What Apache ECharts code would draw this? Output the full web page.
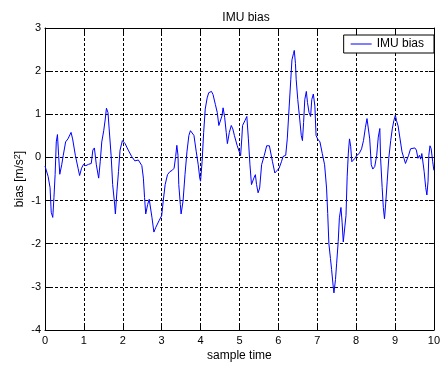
<!DOCTYPE html>
<html>
<head>
<meta charset="utf-8">
<script src="https://cdn.jsdelivr.net/npm/echarts@6/dist/echarts.min.js"></script>
<style>
  html, body { margin: 0; padding: 0; background: #fff; }
  #chart { width: 443px; height: 367px; }
</style>
</head>
<body>
<div id="chart"></div>
<script>
// IMU bias samples: time stamps and bias values (m/s^2)
const sampleTime = [
  0.00, 0.08, 0.13, 0.16, 0.20, 0.23, 0.26, 0.29, 0.32, 0.35, 0.38, 0.43, 0.47, 0.53, 0.59, 0.64, 0.67, 0.71, 0.78, 0.85,
  0.89, 0.94, 0.99, 1.05, 1.12, 1.19, 1.23, 1.27, 1.32, 1.38, 1.42, 1.46, 1.51, 1.55, 1.58, 1.62, 1.65, 1.70, 1.74, 1.79,
  1.81, 1.85, 1.89, 1.93, 1.99, 2.06, 2.14, 2.23, 2.31, 2.40, 2.49, 2.53, 2.56, 2.59, 2.64, 2.68, 2.71, 2.75, 2.80, 2.85,
  2.93, 3.00, 3.04, 3.09, 3.15, 3.21, 3.27, 3.32, 3.36, 3.39, 3.42, 3.44, 3.48, 3.50, 3.55, 3.60, 3.65, 3.70, 3.74, 3.78,
  3.83, 3.89, 3.94, 3.98, 4.00, 4.04, 4.08, 4.12, 4.17, 4.21, 4.28, 4.32, 4.38, 4.43, 4.47, 4.51, 4.55, 4.58, 4.62, 4.66,
  4.69, 4.74, 4.79, 4.83, 4.87, 4.94, 5.03, 5.06, 5.08, 5.14, 5.19, 5.23, 5.27, 5.31, 5.37, 5.41, 5.44, 5.48, 5.52, 5.57,
  5.64, 5.70, 5.77, 5.81, 5.85, 5.91, 5.96, 6.02, 6.08, 6.12, 6.19, 6.23, 6.28, 6.32, 6.35, 6.39, 6.41, 6.44, 6.46, 6.50,
  6.55, 6.59, 6.62, 6.65, 6.68, 6.72, 6.75, 6.79, 6.83, 6.86, 6.90, 6.94, 6.97, 7.01, 7.07, 7.13, 7.19, 7.24, 7.27, 7.30,
  7.34, 7.37, 7.41, 7.43, 7.47, 7.50, 7.54, 7.57, 7.61, 7.64, 7.67, 7.70, 7.74, 7.77, 7.80, 7.83, 7.86, 7.89, 7.93, 7.97,
  8.02, 8.08, 8.14, 8.19, 8.24, 8.28, 8.32, 8.35, 8.39, 8.43, 8.48, 8.53, 8.57, 8.61, 8.63, 8.67, 8.70, 8.73, 8.76, 8.80,
  8.84, 8.89, 8.93, 8.97, 9.01, 9.04, 9.08, 9.13, 9.18, 9.23, 9.27, 9.31, 9.35, 9.40, 9.45, 9.51, 9.55, 9.59, 9.63, 9.66,
  9.69, 9.72, 9.75, 9.79, 9.82, 9.85, 9.87, 9.90, 9.93, 9.97, 10.00
];
const imuBias = [
  -0.20, -0.44, -0.70, -1.27, -1.39, -0.93, -0.40, 0.36, 0.53, 0.05, -0.39, -0.17, 0.05, 0.36, 0.43, 0.47, 0.58, 0.43, 0.05, -0.25,
  -0.42, -0.25, -0.16, -0.19, -0.16, -0.14, 0.17, 0.22, -0.17, -0.48, -0.10, 0.36, 0.62, 0.89, 1.14, 1.04, 0.66, 0.05, -0.63, -1.08,
  -1.31, -0.78, -0.33, 0.17, 0.39, 0.32, 0.17, 0.02, -0.08, -0.06, -0.19, -0.48, -0.93, -1.31, -1.09, -0.97, -1.01, -1.39, -1.73, -1.62,
  -1.47, -1.35, -1.01, -0.63, -0.40, -0.33, -0.30, -0.25, 0.02, 0.28, 0.05, -0.63, -1.09, -1.31, -1.01, -0.40, 0.13, 0.51, 0.62, 0.66,
  0.51, 0.13, -0.17, -0.48, -0.55, -0.10, 0.58, 1.12, 1.38, 1.50, 1.53, 1.46, 1.23, 1.04, 0.74, 0.74, 0.96, 1.15, 0.93, 0.58,
  0.32, 0.58, 0.74, 0.66, 0.51, 0.28, 0.04, 0.43, 0.74, 0.85, 0.95, 0.43, -0.17, -0.63, -0.48, -0.40, -0.63, -0.82, -0.71, -0.17,
  0.05, 0.27, 0.27, 0.24, -0.10, -0.36, -0.31, -0.25, -0.10, 0.02, 0.05, 0.43, 1.19, 1.80, 2.26, 2.41, 2.48, 2.18, 1.80, 1.34,
  0.89, 0.51, 0.39, 0.81, 1.34, 1.53, 1.27, 1.04, 0.95, 1.34, 1.47, 1.19, 0.51, 0.43, 0.36, 0.09, -0.17, -0.71, -1.30, -2.00,
  -2.34, -2.60, -2.98, -3.14, -2.83, -2.45, -1.95, -1.40, -1.16, -1.50, -1.96, -1.98, -1.35, -0.45, 0.10, 0.43, 0.26, -0.10, -0.14, -0.02,
  0.05, 0.09, 0.20, 0.39, 0.70, 0.90, 0.92, 0.43, -0.17, -0.27, -0.21, 0.05, 0.47, 0.67, -0.02, -0.70, -1.16, -1.42, -1.08, -0.55,
  -0.02, 0.39, 0.66, 0.85, 0.98, 0.85, 0.73, 0.43, 0.13, -0.02, -0.14, -0.17, 0.05, 0.20, 0.24, 0.22, 0.17, -0.02, 0.05, -0.04,
  0.09, 0.05, -0.33, -0.70, -0.87, -0.55, 0.05, 0.27, 0.20, -0.10, -0.30
];

const FONT = 'Liberation Sans, Arial, sans-serif';
const gridDash = { color: '#000', width: 1, type: [3, 2] };

const chart = echarts.init(document.getElementById('chart'), null, { renderer: 'canvas' });

const mainAxisCommon = {
  type: 'value',
  axisLine: { show: true, onZero: false, lineStyle: { color: '#000', width: 1 } },
  axisTick: { show: true, inside: true, length: 5, lineStyle: { color: '#000' } },
  axisLabel: { color: '#000', fontFamily: FONT, fontSize: 11 },
  splitLine: { show: true, lineStyle: gridDash },
  nameMoveOverlap: false,
  nameTextStyle: { color: '#000', fontFamily: FONT, fontSize: 12 }
};
// top/right edges close the plot box and carry inward ticks only
const boxAxisCommon = {
  type: 'value',
  axisLine: { show: true, onZero: false, lineStyle: { color: '#000', width: 1 } },
  axisTick: { show: true, inside: true, length: 5, lineStyle: { color: '#000' } },
  axisLabel: { show: false },
  splitLine: { show: false }
};

chart.setOption({
  animation: false,
  backgroundColor: '#fff',
  title: {
    text: 'IMU bias',
    left: 241,
    textAlign: 'center',
    top: 7,
    textStyle: { color: '#000', fontFamily: FONT, fontSize: 12, fontWeight: 'normal' }
  },
  legend: {
    data: ['IMU bias'],
    right: 9,
    top: 35,
    backgroundColor: '#fff',
    borderColor: '#000',
    borderWidth: 1,
    borderRadius: 0,
    padding: [3, 10, 3, 7],
    itemWidth: 21,
    itemHeight: 1,
    itemGap: 0,
    icon: 'rect',
    textStyle: { color: '#000', fontFamily: FONT, fontSize: 12 }
  },
  grid: { left: 45, right: 6, top: 28, bottom: 32, containLabel: false },
  xAxis: [
    Object.assign({}, mainAxisCommon, {
      position: 'bottom',
      min: 0, max: 10, interval: 1,
      name: 'sample time',
      nameLocation: 'middle',
      nameGap: 20,
      axisLabel: { color: '#000', fontFamily: FONT, fontSize: 11, margin: 5 }
    }),
    Object.assign({}, boxAxisCommon, { position: 'top', min: 0, max: 10, interval: 1 })
  ],
  yAxis: [
    Object.assign({}, mainAxisCommon, {
      position: 'left',
      min: -4, max: 3, interval: 1,
      name: 'bias [m/s{sup|2}]',
      nameLocation: 'middle',
      nameGap: 18,
      nameRotate: 90,
      nameTextStyle: {
        color: '#000', fontFamily: FONT, fontSize: 12, lineHeight: 14,
        rich: { sup: { fontFamily: FONT, fontSize: 9, lineHeight: 9, verticalAlign: 'top', color: '#000' } }
      },
      axisLabel: { color: '#000', fontFamily: FONT, fontSize: 11, margin: 4 }
    }),
    Object.assign({}, boxAxisCommon, { position: 'right', min: -4, max: 3, interval: 1 })
  ],
  series: [{
    name: 'IMU bias',
    type: 'line',
    xAxisIndex: 0,
    yAxisIndex: 0,
    data: sampleTime.map((t, i) => [t, imuBias[i]]),
    showSymbol: false,
    symbol: 'none',
    smooth: false,
    color: '#0000ff',
    lineStyle: { color: '#0000ff', width: 1 },
    itemStyle: { color: '#0000ff' },
    z: 3
  }]
});
</script>
</body>
</html>
